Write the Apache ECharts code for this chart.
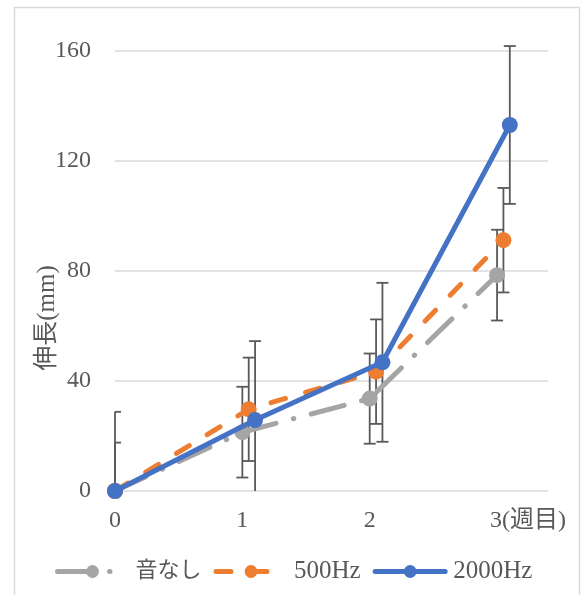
<!DOCTYPE html>
<html>
<head>
<meta charset="utf-8">
<script src="https://cdn.jsdelivr.net/npm/echarts@6/dist/echarts.min.js"></script>
<style>
html,body{margin:0;padding:0;background:#fff;}
#chart{width:581px;height:595px;}
</style>
</head>
<body>
<div id="chart"></div>
<script>
// ---- data ----
const seriesNames = ['音なし', '500Hz', '2000Hz'];
const xTickLabels = ['0', '1', '2', '3(週目)'];
const yTicks = [0, 40, 80, 120, 160];
const yAxisTitle = '伸長(mm)';

const xNone = [0, 1, 2, 3];
const yNone = [0, 21.4, 33.6, 78.5];
const eNone = [0, 16.5, 16.4, 16.5];

const x500 = [0, 1.05, 2.05, 3.05];
const y500 = [0, 29.7, 43.4, 91.2];
const e500 = [17.6, 18.8, 19.0, 19.0];

const x2000 = [0, 1.1, 2.1, 3.1];
const y2000 = [0, 25.8, 46.8, 133.1];
const e2000 = [28.8, 28.7, 28.9, 28.7];

// ---- styles ----
const FONT = "'Liberation Serif', 'Noto Sans CJK JP', serif";
const TXT = '#595959';
const colors = ['#A5A5A5', '#ED7D31', '#4472C4'];

function zip3(a, b, c) { return a.map((v, i) => [v, b[i], c[i]]); }
function zip2(a, b) { return a.map((v, i) => [v, b[i]]); }

function errRender(params, api) {
  const x = api.value(0), y = api.value(1), e = api.value(2);
  if (!e) return null;
  const cs = params.coordSys;
  const loV = Math.max(y - e, 0);
  const pHi = api.coord([x, y + e]);
  const pLo = api.coord([x, loV]);
  const hw = 6;
  const st = { stroke: '#595959', lineWidth: 1.8 };
  const children = [
    { type: 'line', shape: { x1: pHi[0], y1: pHi[1], x2: pLo[0], y2: pLo[1] }, style: st },
    { type: 'line', shape: { x1: Math.max(pHi[0] - hw, cs.x), y1: pHi[1], x2: pHi[0] + hw, y2: pHi[1] }, style: st }
  ];
  if (y - e >= 0) {
    children.push({ type: 'line', shape: { x1: Math.max(pLo[0] - hw, cs.x), y1: pLo[1], x2: pLo[0] + hw, y2: pLo[1] }, style: st });
  }
  return { type: 'group', children: children };
}

const chart = echarts.init(document.getElementById('chart'), null, { renderer: 'canvas' });

const lineTypes = [[34, 18, 0.5, 18], [15, 21], 'solid'];
const xs = [xNone, x500, x2000], ys = [yNone, y500, y2000], es = [eNone, e500, e2000];

const series = [];
for (let i = 0; i < 3; i++) {
  series.push({
    type: 'custom',
    name: seriesNames[i] + '_err',
    renderItem: errRender,
    data: zip3(xs[i], ys[i], es[i]),
    z: 1,
    silent: true,
    tooltip: { show: false }
  });
}
for (let i = 0; i < 3; i++) {
  series.push({
    type: 'line',
    name: seriesNames[i],
    data: zip2(xs[i], ys[i]),
    symbol: 'circle',
    symbolSize: 16,
    z: 3 + i,
    itemStyle: { color: colors[i] },
    lineStyle: { color: colors[i], width: 5, type: lineTypes[i], cap: 'round' },
    emphasis: { disabled: true }
  });
}

chart.setOption({
  animation: false,
  backgroundColor: '#fff',
  textStyle: { fontFamily: FONT },
  graphic: [{
    type: 'rect',
    shape: { x: 14.5, y: 7.5, width: 565, height: 600 },
    style: { fill: 'none', stroke: '#D9D9D9', lineWidth: 1.5 },
    z: -10
  }],
  grid: { left: 115, right: 33, top: 51, bottom: 104 },
  legend: {
    data: seriesNames,
    bottom: 6,
    left: 50,
    itemWidth: 70,
    itemHeight: 16,
    itemGap: 12,
    lineStyle: { width: 5, cap: 'round' },
    formatter: function (n) {
      return /^[\x00-\x7F]+$/.test(n) ? '{a|' + n + '}' : '{c|' + n + '}';
    },
    textStyle: {
      fontFamily: FONT, fontSize: 22, color: TXT, padding: [0, 0, 0, 3],
      rich: {
        a: { fontFamily: FONT, fontSize: 25, color: TXT },
        c: { fontFamily: FONT, fontSize: 22, color: TXT }
      }
    }
  },
  xAxis: {
    type: 'value',
    min: 0, max: 3.4, interval: 1,
    axisLine: { show: false },
    axisTick: { show: false },
    splitLine: { show: false },
    axisLabel: {
      showMaxLabel: false,
      margin: 18,
      fontFamily: FONT, fontSize: 24, color: TXT,
      formatter: function (v) {
        const idx = Math.round(v);
        if (Math.abs(v - idx) > 1e-6 || idx >= xTickLabels.length) return '';
        if (idx === xTickLabels.length - 1) return '{r|' + xTickLabels[idx] + '}';
        return xTickLabels[idx];
      },
      rich: { r: { fontFamily: FONT, fontSize: 24, color: TXT, padding: [0, 0, 0, 62] } }
    }
  },
  yAxis: {
    type: 'value',
    min: yTicks[0], max: yTicks[yTicks.length - 1], interval: yTicks[1] - yTicks[0],
    name: yAxisTitle,
    nameLocation: 'middle',
    nameGap: 55,
    nameMoveOverlap: false,
    nameRotate: 90,
    nameTextStyle: { fontFamily: FONT, fontSize: 25, color: TXT, padding: [0, 94, 0, 0] },
    axisLine: { show: false },
    axisTick: { show: false },
    splitLine: { lineStyle: { color: '#D9D9D9', width: 1.5 } },
    axisLabel: { margin: 24, fontFamily: FONT, fontSize: 24, color: TXT }
  },
  series: series
});
</script>
</body>
</html>
